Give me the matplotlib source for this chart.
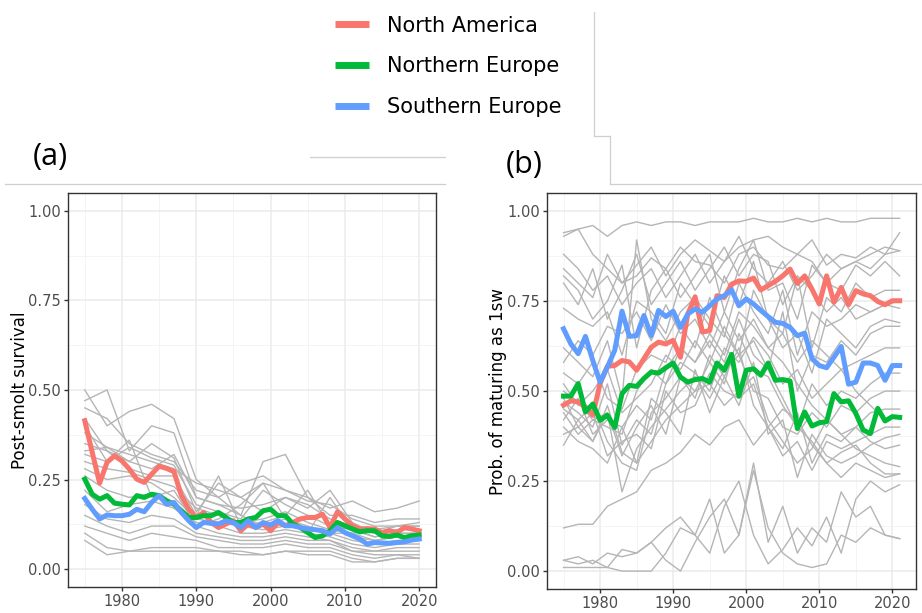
import matplotlib
matplotlib.use("Agg")
import matplotlib.pyplot as plt
from matplotlib.lines import Line2D

# ---- data ----
years_a = list(range(1975, 2021))
years_b = list(range(1975, 2022))

# panel (a): post-smolt survival, regional means
na_a = [0.414, 0.326, 0.240, 0.298, 0.316, 0.302, 0.279, 0.251, 0.242, 0.265,
        0.287, 0.281, 0.272, 0.205, 0.167, 0.144, 0.158, 0.130, 0.116, 0.126,
        0.135, 0.107, 0.126, 0.116, 0.126, 0.107, 0.130, 0.121, 0.130, 0.140,
        0.144, 0.144, 0.153, 0.116, 0.160, 0.140, 0.121, 0.112, 0.113, 0.112,
        0.102, 0.107, 0.102, 0.116, 0.112, 0.107]
ne_a = [0.251, 0.209, 0.195, 0.205, 0.184, 0.181, 0.179, 0.205, 0.200, 0.209,
        0.205, 0.191, 0.181, 0.163, 0.144, 0.144, 0.149, 0.149, 0.158, 0.144,
        0.130, 0.130, 0.140, 0.144, 0.163, 0.167, 0.149, 0.149, 0.126, 0.116,
        0.102, 0.088, 0.093, 0.107, 0.130, 0.121, 0.112, 0.104, 0.107, 0.107,
        0.093, 0.091, 0.095, 0.088, 0.093, 0.095]
se_a = [0.197, 0.167, 0.140, 0.151, 0.149, 0.149, 0.153, 0.167, 0.160, 0.186,
        0.205, 0.181, 0.186, 0.158, 0.135, 0.116, 0.130, 0.128, 0.126, 0.135,
        0.130, 0.116, 0.135, 0.116, 0.130, 0.123, 0.135, 0.121, 0.121, 0.116,
        0.112, 0.110, 0.107, 0.098, 0.116, 0.102, 0.093, 0.084, 0.070, 0.074,
        0.073, 0.072, 0.074, 0.076, 0.081, 0.084]

# panel (a): individual stock units
stock_years_a = [1975, 1978, 1981, 1984, 1987, 1990, 1993, 1996, 1999, 2002,
                 2005, 2008, 2011, 2014, 2017, 2020]
stocks_a = [
    [0.50, 0.40, 0.44, 0.46, 0.42, 0.25, 0.20, 0.15, 0.12, 0.14, 0.12, 0.10, 0.10, 0.11, 0.12, 0.13],
    [0.47, 0.50, 0.33, 0.40, 0.38, 0.20, 0.18, 0.15, 0.30, 0.32, 0.20, 0.17, 0.19, 0.16, 0.17, 0.19],
    [0.45, 0.42, 0.35, 0.32, 0.30, 0.22, 0.20, 0.24, 0.26, 0.22, 0.20, 0.15, 0.15, 0.13, 0.14, 0.14],
    [0.38, 0.34, 0.32, 0.30, 0.28, 0.24, 0.22, 0.20, 0.24, 0.22, 0.19, 0.18, 0.14, 0.12, 0.12, 0.12],
    [0.35, 0.33, 0.30, 0.28, 0.32, 0.20, 0.18, 0.17, 0.18, 0.20, 0.18, 0.14, 0.12, 0.10, 0.11, 0.11],
    [0.32, 0.30, 0.34, 0.31, 0.29, 0.18, 0.16, 0.14, 0.22, 0.18, 0.15, 0.12, 0.11, 0.09, 0.10, 0.10],
    [0.30, 0.28, 0.27, 0.25, 0.23, 0.17, 0.15, 0.13, 0.14, 0.16, 0.13, 0.11, 0.10, 0.08, 0.09, 0.09],
    [0.28, 0.25, 0.26, 0.24, 0.20, 0.14, 0.13, 0.12, 0.11, 0.12, 0.11, 0.10, 0.08, 0.07, 0.08, 0.08],
    [0.26, 0.22, 0.20, 0.21, 0.18, 0.13, 0.12, 0.10, 0.10, 0.11, 0.10, 0.09, 0.07, 0.06, 0.07, 0.07],
    [0.22, 0.16, 0.18, 0.19, 0.17, 0.12, 0.10, 0.09, 0.09, 0.10, 0.09, 0.08, 0.06, 0.05, 0.06, 0.06],
    [0.18, 0.14, 0.13, 0.15, 0.14, 0.10, 0.09, 0.08, 0.08, 0.09, 0.08, 0.08, 0.05, 0.05, 0.05, 0.05],
    [0.15, 0.12, 0.10, 0.12, 0.12, 0.09, 0.08, 0.07, 0.07, 0.08, 0.07, 0.07, 0.05, 0.04, 0.04, 0.04],
    [0.12, 0.10, 0.08, 0.10, 0.09, 0.08, 0.06, 0.06, 0.06, 0.07, 0.06, 0.06, 0.04, 0.03, 0.04, 0.03],
    [0.10, 0.06, 0.05, 0.06, 0.06, 0.06, 0.05, 0.05, 0.04, 0.05, 0.05, 0.05, 0.03, 0.02, 0.03, 0.03],
    [0.08, 0.04, 0.05, 0.05, 0.05, 0.05, 0.05, 0.04, 0.04, 0.05, 0.04, 0.04, 0.02, 0.02, 0.03, 0.03],
    [0.33, 0.34, 0.30, 0.35, 0.31, 0.16, 0.24, 0.20, 0.16, 0.20, 0.17, 0.22, 0.13, 0.10, 0.12, 0.12],
    [0.42, 0.33, 0.28, 0.26, 0.26, 0.15, 0.26, 0.12, 0.13, 0.15, 0.22, 0.12, 0.09, 0.08, 0.09, 0.09],
    [0.40, 0.30, 0.36, 0.20, 0.22, 0.12, 0.14, 0.18, 0.24, 0.14, 0.10, 0.20, 0.11, 0.09, 0.10, 0.10],
]

# panel (b): probability of maturing as 1SW, regional means
na_b = [0.461, 0.473, 0.470, 0.456, 0.433, 0.521, 0.569, 0.571, 0.585, 0.581,
        0.558, 0.590, 0.622, 0.636, 0.631, 0.641, 0.594, 0.714, 0.762, 0.664,
        0.668, 0.765, 0.760, 0.797, 0.806, 0.805, 0.814, 0.781, 0.793, 0.805,
        0.820, 0.839, 0.799, 0.820, 0.783, 0.742, 0.820, 0.747, 0.788, 0.740,
        0.779, 0.770, 0.765, 0.749, 0.740, 0.751, 0.751]
ne_b = [0.486, 0.486, 0.521, 0.442, 0.464, 0.419, 0.433, 0.399, 0.493, 0.516,
        0.513, 0.535, 0.553, 0.550, 0.565, 0.578, 0.539, 0.525, 0.532, 0.535,
        0.525, 0.578, 0.558, 0.602, 0.486, 0.558, 0.562, 0.544, 0.578, 0.530,
        0.532, 0.528, 0.396, 0.442, 0.403, 0.412, 0.415, 0.493, 0.470, 0.473,
        0.438, 0.392, 0.382, 0.452, 0.417, 0.429, 0.427]
se_b = [0.673, 0.631, 0.604, 0.652, 0.585, 0.525, 0.567, 0.613, 0.722, 0.652,
        0.654, 0.710, 0.654, 0.724, 0.707, 0.722, 0.677, 0.714, 0.728, 0.719,
        0.737, 0.756, 0.765, 0.781, 0.737, 0.756, 0.742, 0.724, 0.707, 0.691,
        0.688, 0.677, 0.654, 0.661, 0.590, 0.571, 0.565, 0.594, 0.624, 0.519,
        0.525, 0.578, 0.578, 0.571, 0.530, 0.571, 0.571]

stock_years_b = list(range(1975, 2022, 2))
stocks_b = [
    [0.94, 0.95, 0.96, 0.93, 0.96, 0.97, 0.96, 0.97, 0.97, 0.96, 0.97, 0.97, 0.97, 0.98, 0.97, 0.97, 0.98, 0.97, 0.98, 0.97, 0.97, 0.98, 0.98, 0.98],
    [0.93, 0.95, 0.88, 0.84, 0.80, 0.85, 0.90, 0.82, 0.88, 0.92, 0.89, 0.86, 0.90, 0.92, 0.93, 0.90, 0.88, 0.92, 0.85, 0.88, 0.87, 0.90, 0.88, 0.94],
    [0.01, 0.01, 0.01, 0.01, 0.00, 0.00, 0.00, 0.05, 0.12, 0.10, 0.20, 0.05, 0.10, 0.28, 0.12, 0.05, 0.02, 0.01, 0.02, 0.10, 0.08, 0.12, 0.10, 0.09],
    [0.03, 0.02, 0.03, 0.01, 0.06, 0.05, 0.08, 0.03, 0.00, 0.08, 0.15, 0.20, 0.10, 0.30, 0.08, 0.18, 0.05, 0.12, 0.08, 0.22, 0.15, 0.18, 0.10, 0.09],
    [0.03, 0.04, 0.02, 0.05, 0.04, 0.05, 0.08, 0.12, 0.15, 0.10, 0.05, 0.18, 0.25, 0.10, 0.02, 0.06, 0.12, 0.07, 0.15, 0.05, 0.20, 0.25, 0.22, 0.24],
    [0.12, 0.13, 0.13, 0.18, 0.20, 0.22, 0.28, 0.30, 0.33, 0.38, 0.35, 0.40, 0.42, 0.35, 0.40, 0.45, 0.42, 0.35, 0.30, 0.33, 0.35, 0.30, 0.27, 0.27],
    [0.84, 0.80, 0.76, 0.88, 0.80, 0.82, 0.87, 0.84, 0.90, 0.86, 0.85, 0.80, 0.88, 0.90, 0.85, 0.84, 0.88, 0.86, 0.80, 0.84, 0.86, 0.88, 0.90, 0.89],
    [0.82, 0.78, 0.70, 0.75, 0.85, 0.62, 0.78, 0.84, 0.76, 0.82, 0.88, 0.72, 0.84, 0.92, 0.78, 0.80, 0.70, 0.85, 0.80, 0.78, 0.85, 0.82, 0.86, 0.82],
    [0.73, 0.70, 0.68, 0.72, 0.60, 0.75, 0.72, 0.66, 0.80, 0.74, 0.68, 0.82, 0.74, 0.86, 0.70, 0.66, 0.82, 0.62, 0.76, 0.72, 0.80, 0.76, 0.78, 0.78],
    [0.62, 0.58, 0.54, 0.64, 0.48, 0.92, 0.70, 0.64, 0.72, 0.76, 0.70, 0.65, 0.80, 0.72, 0.66, 0.78, 0.60, 0.72, 0.68, 0.70, 0.74, 0.72, 0.74, 0.73],
    [0.55, 0.52, 0.58, 0.48, 0.45, 0.56, 0.60, 0.58, 0.68, 0.62, 0.76, 0.66, 0.60, 0.78, 0.70, 0.62, 0.66, 0.55, 0.70, 0.66, 0.62, 0.68, 0.70, 0.69],
    [0.50, 0.47, 0.42, 0.40, 0.38, 0.50, 0.56, 0.52, 0.62, 0.58, 0.64, 0.58, 0.70, 0.60, 0.56, 0.72, 0.50, 0.60, 0.58, 0.64, 0.60, 0.66, 0.68, 0.68],
    [0.47, 0.44, 0.40, 0.52, 0.35, 0.42, 0.38, 0.52, 0.58, 0.55, 0.50, 0.62, 0.58, 0.65, 0.60, 0.52, 0.56, 0.48, 0.52, 0.56, 0.58, 0.60, 0.62, 0.62],
    [0.45, 0.42, 0.46, 0.36, 0.30, 0.28, 0.44, 0.48, 0.54, 0.50, 0.58, 0.52, 0.66, 0.56, 0.54, 0.46, 0.40, 0.52, 0.46, 0.50, 0.48, 0.52, 0.55, 0.55],
    [0.44, 0.38, 0.42, 0.44, 0.22, 0.34, 0.40, 0.45, 0.50, 0.54, 0.48, 0.56, 0.60, 0.50, 0.48, 0.40, 0.38, 0.44, 0.40, 0.46, 0.44, 0.48, 0.50, 0.50],
    [0.40, 0.36, 0.34, 0.30, 0.40, 0.30, 0.36, 0.42, 0.46, 0.50, 0.52, 0.46, 0.50, 0.54, 0.42, 0.36, 0.30, 0.34, 0.42, 0.38, 0.40, 0.44, 0.45, 0.45],
    [0.38, 0.40, 0.44, 0.32, 0.36, 0.38, 0.34, 0.50, 0.44, 0.46, 0.55, 0.50, 0.48, 0.52, 0.40, 0.32, 0.36, 0.28, 0.36, 0.34, 0.36, 0.38, 0.40, 0.40],
    [0.35, 0.42, 0.36, 0.46, 0.33, 0.30, 0.48, 0.44, 0.38, 0.56, 0.44, 0.54, 0.46, 0.58, 0.38, 0.42, 0.26, 0.38, 0.32, 0.30, 0.32, 0.35, 0.37, 0.38],
    [0.80, 0.74, 0.84, 0.70, 0.78, 0.88, 0.74, 0.80, 0.86, 0.78, 0.84, 0.90, 0.82, 0.88, 0.86, 0.74, 0.82, 0.78, 0.72, 0.76, 0.70, 0.72, 0.74, 0.75],
    [0.58, 0.64, 0.60, 0.68, 0.66, 0.72, 0.64, 0.74, 0.66, 0.70, 0.62, 0.72, 0.64, 0.70, 0.62, 0.58, 0.52, 0.46, 0.42, 0.38, 0.34, 0.32, 0.30, 0.29],
    [0.52, 0.46, 0.50, 0.56, 0.44, 0.48, 0.52, 0.60, 0.56, 0.64, 0.58, 0.68, 0.60, 0.64, 0.56, 0.48, 0.40, 0.36, 0.30, 0.26, 0.30, 0.28, 0.26, 0.27],
    [0.42, 0.48, 0.38, 0.42, 0.40, 0.46, 0.42, 0.56, 0.62, 0.58, 0.66, 0.60, 0.72, 0.68, 0.62, 0.66, 0.58, 0.64, 0.60, 0.56, 0.50, 0.46, 0.42, 0.43],
    [0.88, 0.84, 0.78, 0.82, 0.74, 0.80, 0.84, 0.76, 0.82, 0.88, 0.80, 0.86, 0.93, 0.84, 0.80, 0.86, 0.78, 0.82, 0.88, 0.84, 0.86, 0.84, 0.88, 0.89],
    [0.48, 0.40, 0.36, 0.44, 0.32, 0.40, 0.46, 0.38, 0.54, 0.48, 0.60, 0.54, 0.62, 0.46, 0.40, 0.34, 0.44, 0.30, 0.38, 0.36, 0.40, 0.36, 0.34, 0.35],
]

regions = ["North America", "Northern Europe", "Southern Europe"]
colors = ["#F8766D", "#00BA38", "#619CFF"]

y_ticks = [0.0, 0.25, 0.5, 0.75, 1.0]
y_minor = [0.125, 0.375, 0.625, 0.875]
x_ticks = [1980, 1990, 2000, 2010, 2020]
x_minor = [1975, 1985, 1995, 2005, 2015]


def style_panel(ax, years):
    span = years[-1] - years[0]
    ax.set_xlim(years[0] - 0.05 * span, years[-1] + 0.05 * span)
    ax.set_ylim(-0.05, 1.05)
    ax.set_yticks(y_ticks)
    ax.set_yticklabels(["0.00", "0.25", "0.50", "0.75", "1.00"])
    ax.set_yticks(y_minor, minor=True)
    ax.set_xticks(x_ticks)
    ax.set_xticks(x_minor, minor=True)
    ax.grid(True, which="major", color="#EBEBEB", linewidth=1.1, zorder=0)
    ax.grid(True, which="minor", color="#F2F2F2", linewidth=0.6, zorder=0)
    ax.set_axisbelow(True)
    ax.tick_params(which="major", length=3, width=1, color="#333333",
                   labelsize=10.5, labelcolor="#4D4D4D", pad=2)
    ax.tick_params(which="minor", length=0)
    for s in ax.spines.values():
        s.set_color("#333333")
        s.set_linewidth(1.0)


fig = plt.figure(figsize=(9.22, 6.13), dpi=100)
ax_a = fig.add_axes([0.0738, 0.0424, 0.399, 0.643])
ax_b = fig.add_axes([0.593, 0.039, 0.401, 0.646])

for s in stocks_a:
    ax_a.plot(stock_years_a, s, color="#B5B5B5", linewidth=1.0, zorder=2)
for vals, c in zip([na_a, ne_a, se_a], colors):
    ax_a.plot(years_a, vals, color=c, linewidth=3.6, zorder=3,
              solid_joinstyle="round")
style_panel(ax_a, years_a)
ax_a.set_ylabel("Post-smolt survival", fontsize=12)
ax_a.yaxis.set_label_coords(-0.107, 0.5)

for s in stocks_b:
    ax_b.plot(stock_years_b, s, color="#B5B5B5", linewidth=1.0, zorder=2)
for vals, c in zip([na_b, ne_b, se_b], colors):
    ax_b.plot(years_b, vals, color=c, linewidth=3.6, zorder=3,
              solid_joinstyle="round")
style_panel(ax_b, years_b)
ax_b.set_ylabel("Prob. of maturing as 1sw", fontsize=12)
ax_b.yaxis.set_label_coords(-0.108, 0.5)

# shared legend at the top
handles = [Line2D([0], [0], color=c, linewidth=5, solid_capstyle="butt")
           for c in colors]
fig.legend(handles, regions, loc="upper left", bbox_to_anchor=(0.346, 1.0),
           frameon=False, fontsize=15, handlelength=1.63, handletextpad=0.87,
           labelspacing=0.99, borderaxespad=0.35)

# panel tags
fig.text(0.036, 0.72, "(a)", fontsize=22, family="Open Sans", va="bottom")
fig.text(0.548, 0.707, "(b)", fontsize=22, family="Open Sans", va="bottom")

# thin separator rules from the composed figure
W, H = 922.0, 613.0
rule = dict(color="#CFCFCF", linewidth=0.9)
seg = [((5, 184), (445, 184)), ((310, 157), (445, 157)),
       ((594, 12), (594, 136)), ((594, 136), (610, 136)),
       ((610, 136), (610, 184)), ((610, 184), (922, 184))]
for (x0, y0), (x1, y1) in seg:
    fig.add_artist(Line2D([x0 / W, x1 / W], [1 - y0 / H, 1 - y1 / H],
                          transform=fig.transFigure, **rule))

fig.savefig("out.png", dpi=100)
